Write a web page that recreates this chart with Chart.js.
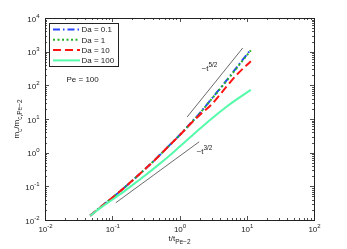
<!DOCTYPE html>
<html><head><meta charset="utf-8">
<script src="https://cdn.jsdelivr.net/npm/chart.js@4"></script>
<style>html,body{margin:0;padding:0;background:#fff;overflow:hidden}canvas{display:block}</style>
</head><body>
<canvas id="c" width="347" height="249"></canvas>
<script>
// ---- data ----
const tValues = [0.047, 0.07, 0.1, 0.15, 0.2, 0.3, 0.5, 0.7, 1, 1.5, 2, 3, 5, 7, 11.5];
const mDa01  = [0.0135, 0.026, 0.046, 0.09, 0.15, 0.31, 0.82, 1.62, 3.3, 7.9, 15, 40, 140, 330, 1160];
const mDa1   = [0.0135, 0.026, 0.046, 0.09, 0.15, 0.31, 0.82, 1.61, 3.28, 7.8, 14.7, 39, 135, 315, 1100];
const mDa10  = [0.0135, 0.026, 0.046, 0.09, 0.15, 0.31, 0.81, 1.6, 3.25, 7.6, 13.2, 27, 91, 200, 520];
const mDa100 = [0.0135, 0.0245, 0.040, 0.071, 0.109, 0.202, 0.457, 0.80, 1.50, 3.08, 5.1, 10.2, 23, 37.5, 73.5];
const seriesLabels = ['Da = 0.1', 'Da = 1', 'Da = 10', 'Da = 100'];
const guide52T = [1.3, 8.7];
const guide52M = [11.5, 1280];
const guide32T = [0.113, 1.96];
const guide32M = [0.0326, 2.1];
const xTickValues = [0.01, 0.1, 1, 10, 100];
const xTickExponents = ['-2', '-1', '0', '1', '2'];
const yTickValues = [0.01, 0.1, 1, 10, 100, 1000, 10000];
const yTickExponents = ['-2', '-1', '0', '1', '2', '3', '4'];
const annotationPe = 'Pe = 100';

const FONT = '"Liberation Sans", Arial, Helvetica, sans-serif';
const pts = (xs, ys) => xs.map((x, i) => ({x: x, y: ys[i]}));

const styles = [
  {color: 'rgb(40,70,255)', dash: [7, 3, 1.5, 3], order: 4},
  {color: 'rgb(40,175,40)', dash: [2, 2.5], order: 3},
  {color: 'rgb(255,20,20)', dash: [8, 4], order: 2},
  {color: 'rgb(85,250,170)', dash: [], order: 1}
];
const seriesData = [mDa01, mDa1, mDa10, mDa100];

const datasets = seriesData.map((d, i) => ({
  label: seriesLabels[i],
  data: pts(tValues, d),
  borderColor: styles[i].color,
  borderDash: styles[i].dash,
  borderWidth: 2,
  pointRadius: 0,
  fill: false,
  cubicInterpolationMode: 'monotone',
  order: styles[i].order
}));
datasets.push({label: 'g52', data: pts(guide52T, guide52M), borderColor: '#444', borderWidth: 0.8, pointRadius: 0, order: 5});
datasets.push({label: 'g32', data: pts(guide32T, guide32M), borderColor: '#444', borderWidth: 0.8, pointRadius: 0, order: 5});

function drawPow(ctx, x, y, exp, align) {
  ctx.font = '8px ' + FONT;
  const wb = ctx.measureText('10').width;
  ctx.font = '6px ' + FONT;
  const we = ctx.measureText(exp).width;
  const tot = wb + we;
  let sx = align === 'center' ? x - tot / 2 : x - tot;
  ctx.textAlign = 'left';
  ctx.textBaseline = 'alphabetic';
  ctx.font = '8px ' + FONT;
  ctx.fillText('10', sx, y);
  ctx.font = '6px ' + FONT;
  ctx.fillText(exp, sx + wb, y - 4);
}

function drawParts(ctx, parts, x, y, center) {
  // parts: [text, size, dy]
  let tot = 0;
  parts.forEach(p => { ctx.font = p[1] + 'px ' + FONT; tot += ctx.measureText(p[0]).width; });
  let cx = center ? x - tot / 2 : x;
  ctx.textAlign = 'left';
  ctx.textBaseline = 'alphabetic';
  parts.forEach(p => {
    ctx.font = p[1] + 'px ' + FONT;
    ctx.fillText(p[0], cx, y + p[2]);
    cx += ctx.measureText(p[0]).width;
  });
}

const decor = {
  id: 'decor',
  afterDraw(chart) {
    const ctx = chart.ctx, xs = chart.scales.x, ys = chart.scales.y, a = chart.chartArea;
    ctx.save();
    ctx.strokeStyle = '#222';
    ctx.fillStyle = '#222';
    ctx.lineWidth = 0.8;
    ctx.setLineDash([]);
    // ticks
    ctx.beginPath();
    for (let n = -2; n < 2; n++) for (let k = 1; k <= 9; k++) {
      const v = k * Math.pow(10, n);
      const px = Math.round(xs.getPixelForValue(v)) + 0.5;
      const len = k === 1 ? 4 : 2;
      ctx.moveTo(px, a.bottom); ctx.lineTo(px, a.bottom - len);
      ctx.moveTo(px, a.top); ctx.lineTo(px, a.top + len);
    }
    for (let n = -2; n < 4; n++) for (let k = 1; k <= 9; k++) {
      const v = k * Math.pow(10, n);
      const py = Math.round(ys.getPixelForValue(v)) + 0.5;
      const len = k === 1 ? 4 : 2;
      ctx.moveTo(a.left, py); ctx.lineTo(a.left + len, py);
      ctx.moveTo(a.right, py); ctx.lineTo(a.right - len, py);
    }
    ctx.stroke();
    ctx.lineWidth = 1;
    ctx.strokeRect(Math.round(a.left) + 0.5, Math.round(a.top) + 0.5, Math.round(a.right - a.left), Math.round(a.bottom - a.top));
    // tick labels
    xTickValues.forEach((v, i) => drawPow(ctx, xs.getPixelForValue(v) + 0.5, a.bottom + 11.7, xTickExponents[i], 'center'));
    yTickValues.forEach((v, i) => drawPow(ctx, a.left - 5.5, ys.getPixelForValue(v) + 3.5, yTickExponents[i], 'right'));
    // axis titles
    const cxp = (a.left + a.right) / 2;
    drawParts(ctx, [['t/t', 8, 0], ['Pe\u22122', 6.5, 3]], cxp, 241, true);
    ctx.save();
    ctx.translate(19, (a.top + a.bottom) / 2);
    ctx.rotate(-Math.PI / 2);
    drawParts(ctx, [['m', 8, 0], ['c', 6.5, 2.5], ['/m', 8, 0], ['c,Pe\u22122', 6.5, 2.5]], 0, 0, true);
    ctx.restore();
    // annotations
    drawParts(ctx, [[annotationPe, 8, 0]], 66.5, 81.5, false);
    drawParts(ctx, [['~t', 8, 0], ['5/2', 6.5, -4]], 201.5, 71, false);
    drawParts(ctx, [['~t', 8, 0], ['3/2', 6.5, -4]], 196.5, 154, false);
    // legend
    ctx.fillStyle = '#fff';
    ctx.fillRect(49.5, 23.5, 69, 43);
    ctx.strokeStyle = '#222';
    ctx.lineWidth = 1;
    ctx.strokeRect(49.5, 23.5, 69, 43);
    for (let i = 0; i < 4; i++) {
      const y = 29.5 + i * 10.3;
      const ds = chart.data.datasets[i];
      ctx.strokeStyle = ds.borderColor;
      ctx.lineWidth = 2;
      ctx.setLineDash(ds.borderDash);
      ctx.beginPath(); ctx.moveTo(53, y); ctx.lineTo(80, y); ctx.stroke();
      ctx.setLineDash([]);
      ctx.fillStyle = '#222';
      ctx.font = '8px ' + FONT;
      ctx.textAlign = 'left';
      ctx.textBaseline = 'middle';
      ctx.fillText(ds.label, 81.5, y + 0.5);
    }
    ctx.restore();
  }
};

new Chart(document.getElementById('c'), {
  type: 'line',
  data: {datasets: datasets},
  options: {
    responsive: false,
    animation: false,
    devicePixelRatio: 1,
    parsing: true,
    layout: {padding: {left: 45, right: 33, top: 18, bottom: 29}},
    plugins: {legend: {display: false}, tooltip: {enabled: false}},
    scales: {
      x: {type: 'logarithmic', min: 0.01, max: 100, display: false},
      y: {type: 'logarithmic', min: 0.01, max: 10000, display: false}
    }
  },
  plugins: [decor]
});
</script>
</body></html>
